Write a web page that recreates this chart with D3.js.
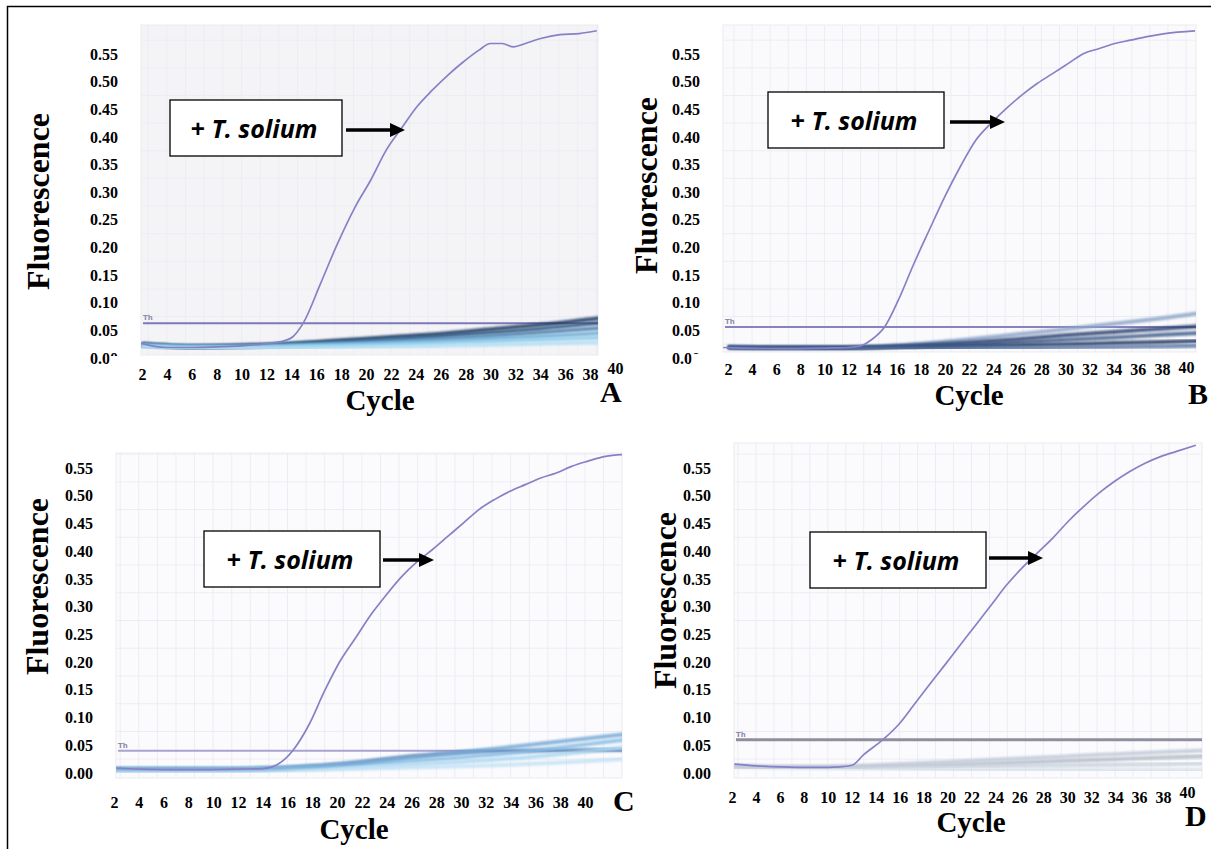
<!DOCTYPE html>
<html>
<head>
<meta charset="utf-8">
<script src="https://cdn.jsdelivr.net/npm/d3@7"></script>
<style>
body { margin: 0; background: #fff; }
svg { display: block; }
.tick text { font-family: "Liberation Serif", "Times New Roman", serif; font-weight: bold; font-size: 16px; fill: #000; }
.big { font-family: "Liberation Serif", "Times New Roman", serif; font-weight: bold; fill: #000; }
.note { font-family: "Open Sans", sans-serif; font-weight: bold; font-size: 25px; fill: #000; }
</style>
</head>
<body>
<div id="chart"></div>
<script>
// tick labels
const xTicks = [2, 4, 6, 8, 10, 12, 14, 16, 18, 20, 22, 24, 26, 28, 30, 32, 34, 36, 38, 40]
const yTicks = [0, 0.05, 0.10, 0.15, 0.20, 0.25, 0.30, 0.35, 0.40, 0.45, 0.50, 0.55]

// positive T. solium curves (cycle, fluorescence)
const posCyclesA = [1.9, 3, 4, 6, 8, 10, 12, 13.4, 14.1, 14.95, 16.35, 17.59, 19.14, 20.38, 21.62, 22.86, 24.1, 25.34, 26.58, 27.83, 29.07, 30.0, 30.93, 31.86, 32.8, 34.03, 35.58, 37.14, 38.54]
const posValuesA = [0.027, 0.021, 0.019, 0.019, 0.02, 0.022, 0.026, 0.031, 0.038, 0.063, 0.135, 0.201, 0.274, 0.322, 0.376, 0.416, 0.455, 0.485, 0.512, 0.536, 0.557, 0.569, 0.569, 0.563, 0.569, 0.578, 0.585, 0.587, 0.592]
const posCyclesB = [1.6, 3, 6, 10, 12, 13.0, 13.9, 15.02, 16.14, 17.43, 18.71, 19.99, 21.27, 22.56, 23.84, 25.12, 26.4, 27.68, 28.96, 30.24, 31.52, 32.81, 34.09, 35.37, 36.65, 38.25, 40.75]
const posValuesB = [0.019, 0.018, 0.017, 0.018, 0.019, 0.022, 0.033, 0.057, 0.105, 0.171, 0.232, 0.292, 0.346, 0.394, 0.425, 0.452, 0.476, 0.497, 0.515, 0.533, 0.551, 0.56, 0.569, 0.575, 0.581, 0.587, 0.592]
const posCyclesC = [2.2, 4, 8, 12, 14, 14.77, 16.48, 17.73, 18.97, 20.22, 21.47, 22.71, 23.96, 25.21, 26.46, 27.7, 28.95, 30.2, 31.44, 32.69, 33.94, 35.18, 36.43, 37.68, 38.92, 40.17, 41.66, 43]
const posValuesC = [0.009, 0.007, 0.006, 0.007, 0.008, 0.011, 0.042, 0.087, 0.147, 0.201, 0.243, 0.285, 0.321, 0.354, 0.381, 0.403, 0.427, 0.451, 0.475, 0.493, 0.508, 0.52, 0.532, 0.541, 0.553, 0.562, 0.571, 0.574]
const posCyclesD = [2.2, 4, 6, 9, 11, 12.03, 13.0, 14.6, 15.9, 17.2, 18.48, 19.78, 21.06, 22.36, 23.65, 24.93, 26.23, 27.51, 28.81, 30.09, 31.39, 32.67, 33.96, 35.26, 36.54, 37.84, 39.13, 40.74]
const posValuesD = [0.016, 0.013, 0.011, 0.01, 0.011, 0.014, 0.033, 0.06, 0.087, 0.123, 0.159, 0.195, 0.231, 0.267, 0.303, 0.339, 0.37, 0.397, 0.424, 0.454, 0.481, 0.505, 0.526, 0.544, 0.559, 0.571, 0.58, 0.591]

// threshold lines
const thresholdA = 0.063
const thresholdB = 0.056
const thresholdC = 0.040
const thresholdD = 0.060

// negative samples, all sampled at the same cycles
const negCycles = [2, 6, 10, 14, 18, 22, 26, 30, 34, 38, 44]
const negA = [
  [0.025, 0.021, 0.022, 0.026, 0.032, 0.038, 0.044, 0.052, 0.06, 0.07, 0.085],
  [0.025, 0.021, 0.022, 0.025, 0.029, 0.034, 0.04, 0.046, 0.053, 0.062, 0.075],
  [0.024, 0.02, 0.021, 0.024, 0.027, 0.031, 0.035, 0.04, 0.046, 0.053, 0.063],
  [0.023, 0.02, 0.02, 0.022, 0.025, 0.028, 0.031, 0.035, 0.039, 0.044, 0.052],
  [0.022, 0.019, 0.019, 0.021, 0.023, 0.025, 0.027, 0.03, 0.033, 0.036, 0.042],
  [0.021, 0.018, 0.018, 0.019, 0.02, 0.021, 0.022, 0.024, 0.026, 0.028, 0.032]
]
const negB = [
  [0.019, 0.018, 0.018, 0.02, 0.026, 0.034, 0.043, 0.052, 0.062, 0.072, 0.09],
  [0.019, 0.018, 0.018, 0.019, 0.023, 0.028, 0.034, 0.041, 0.047, 0.053, 0.062],
  [0.019, 0.018, 0.018, 0.019, 0.021, 0.025, 0.029, 0.033, 0.037, 0.042, 0.048],
  [0.018, 0.018, 0.018, 0.018, 0.019, 0.021, 0.023, 0.025, 0.027, 0.029, 0.032],
  [0.018, 0.017, 0.017, 0.017, 0.017, 0.018, 0.018, 0.019, 0.02, 0.021, 0.023]
]
const negC = [
  [0.007, 0.007, 0.007, 0.008, 0.012, 0.02, 0.03, 0.037, 0.04, 0.041, 0.042],
  [0.006, 0.006, 0.006, 0.007, 0.01, 0.015, 0.021, 0.028, 0.036, 0.046, 0.062],
  [0.005, 0.005, 0.005, 0.006, 0.008, 0.011, 0.015, 0.02, 0.026, 0.034, 0.048],
  [0.004, 0.004, 0.004, 0.005, 0.006, 0.008, 0.01, 0.012, 0.015, 0.019, 0.026],
  [0.007, 0.007, 0.007, 0.008, 0.012, 0.019, 0.028, 0.037, 0.047, 0.057, 0.072]
]
const negD = [
  [0.012, 0.01, 0.01, 0.011, 0.013, 0.016, 0.019, 0.022, 0.025, 0.028, 0.032],
  [0.012, 0.01, 0.01, 0.01, 0.011, 0.012, 0.013, 0.014, 0.015, 0.016, 0.018],
  [0.012, 0.01, 0.009, 0.008, 0.007, 0.006, 0.006, 0.006, 0.005, 0.005, 0.005],
  [0.012, 0.011, 0.011, 0.014, 0.018, 0.022, 0.026, 0.03, 0.034, 0.038, 0.042]
]

const negColorsA = ["#1e3a5f", "#2d5580", "#4a7eaa", "#6aaad6", "#8ccbeb", "#b3dff4"]
const negColorsB = ["#8da4c8", "#2b4170", "#3f5d8c", "#22375f", "#5a78a6"]
const negColorsC = ["#5d86b4", "#86bce4", "#aad7f1", "#c3e2f5", "#76a9d6"]
const negColorsD = ["#b4bac4", "#c8d2de", "#d6dde7", "#c0cad8"]

// layout of the four panels (pixels)
const panels = [
  { id: "A", cyc: posCyclesA, val: posValuesA, thr: thresholdA, neg: negA, negCol: negColorsA,
    xr: [142, 615], yr: [358, 54], plot: [141, 25, 598, 355], yLabX: 118, xLabY: 374, lift40: 6,
    cycle: [380, 410], fluor: [37.5, 201.5], letter: [600, 402], box: [170, 100, 342, 156], arrow: [346, 405, 130],
    cutY: -2.5, bg: "#f4f4f7", thrCol: "#7d78b8" },
  { id: "B", cyc: posCyclesB, val: posValuesB, thr: thresholdB, neg: negB, negCol: negColorsB,
    xr: [728, 1186], yr: [358, 54], plot: [723, 25, 1196, 352], yLabX: 700, xLabY: 369, lift40: 2,
    cycle: [969, 405], fluor: [645.5, 185.5], letter: [1188, 404], box: [768, 92, 944, 148], arrow: [950, 1005, 122],
    cutY: -4.5, bg: "#fafafc", thrCol: "#8783bf" },
  { id: "C", cyc: posCyclesC, val: posValuesC, thr: thresholdC, neg: negC, negCol: negColorsC,
    xr: [114, 585], yr: [773, 468], plot: [116, 453, 622, 778], yLabX: 93, xLabY: 802, lift40: 0,
    cycle: [354, 839], fluor: [36.5, 586.5], letter: [613, 811], box: [204, 531, 380, 587], arrow: [383, 434, 560],
    cutY: null, bg: "#fbfbfd", thrCol: "#a7a3d2" },
  { id: "D", cyc: posCyclesD, val: posValuesD, thr: thresholdD, neg: negD, negCol: negColorsD,
    xr: [732, 1187], yr: [773, 468], plot: [734, 443, 1202, 778], yLabX: 711, xLabY: 797, lift40: 5,
    cycle: [971, 832], fluor: [664.5, 600.5], letter: [1185, 826], box: [810, 532, 986, 588], arrow: [989, 1043, 558],
    cutY: null, bg: "#fbfbfd", thrCol: "#8e8e9e" }
]

const svg = d3.select("#chart").append("svg")
  .attr("width", 1211)
  .attr("height", 849)

const defs = svg.append("defs")
defs.append("filter").attr("id", "soft")
  .append("feGaussianBlur").attr("stdDeviation", 0.9)

//frame: only top and left edges show
svg.append("path")
  .attr("d", "M7.5,849 V6.5 H1211")
  .attr("fill", "none")
  .attr("stroke", "#000")
  .attr("stroke-width", 1.5)

function drawPanel(p) {
  const x = d3.scaleLinear().domain([2, 40]).range(p.xr)
  const y = d3.scaleLinear().domain([0, 0.55]).range(p.yr)
  const [px0, py0, px1, py1] = p.plot

  const g = svg.append("g")

  defs.append("clipPath").attr("id", "plot" + p.id)
    .append("rect").attr("x", px0).attr("y", py0).attr("width", px1 - px0).attr("height", py1 - py0)

  //plot background
  g.append("rect")
    .attr("x", px0).attr("y", py0).attr("width", px1 - px0).attr("height", py1 - py0)
    .attr("fill", p.bg).attr("stroke", "#ebebef")

  const inner = g.append("g").attr("clip-path", "url(#plot" + p.id + ")")

  //faint grid
  inner.selectAll(".vg").data(d3.range(1, 45, 1.5)).join("line")
    .attr("x1", d => x(d)).attr("x2", d => x(d))
    .attr("y1", py0).attr("y2", py1)
    .attr("stroke", "#ececf4").attr("stroke-width", 1)
  inner.selectAll(".hg").data(d3.range(0.025, 0.62, 0.05)).join("line")
    .attr("x1", px0).attr("x2", px1)
    .attr("y1", d => y(d)).attr("y2", d => y(d))
    .attr("stroke", "#ececf4").attr("stroke-width", 1)

  const line = d3.line()
    .x(d => x(d[0]))
    .y(d => y(d[1]))
    .curve(d3.curveMonotoneX)

  //threshold
  inner.append("line")
    .attr("x1", px0 + 2).attr("x2", px1)
    .attr("y1", y(p.thr)).attr("y2", y(p.thr))
    .attr("stroke", p.thrCol)
    .attr("stroke-width", p.id === "D" ? 3 : 2)
  inner.append("text")
    .attr("x", px0 + 2).attr("y", y(p.thr) - 3)
    .attr("font-size", 7).attr("font-family", "DejaVu Sans").attr("font-weight", "bold")
    .attr("fill", "#8c8ca8")
    .text("Th")

  //negative samples
  inner.selectAll(".neg").data(p.neg).join("path")
    .attr("d", vals => line(negCycles.map((c, i) => [c, vals[i]])))
    .attr("fill", "none")
    .attr("stroke", (d, i) => p.negCol[i])
    .attr("stroke-width", 4)
    .attr("stroke-opacity", 0.85)
    .attr("filter", "url(#soft)")

  //positive sample
  inner.append("path")
    .attr("d", line(p.cyc.map((c, i) => [c, p.val[i]])))
    .attr("fill", "none")
    .attr("stroke", "#8681c6")
    .attr("stroke-width", 1.7)

  //y axis labels
  const yAxis = g.append("g")
    .attr("transform", "translate(" + p.yLabX + ",0)")
    .call(d3.axisLeft(y).tickValues(yTicks).tickFormat(d3.format(".2f")).tickSize(0).tickPadding(0))
  yAxis.select(".domain").remove()
  yAxis.selectAll("text").attr("dy", "0.32em")

  //the 0.00 label is cut off at the bottom in A and B
  if (p.cutY !== null) {
    const cp = defs.append("clipPath").attr("id", "cut" + p.id)
    cp.append("rect").attr("x", -60).attr("y", -20).attr("width", 60 - 8.3).attr("height", 40)
    cp.append("rect").attr("x", -8.3).attr("y", -20).attr("width", 12).attr("height", 20 + p.cutY)
    yAxis.selectAll(".tick").filter(d => d === 0).select("text")
      .attr("clip-path", "url(#cut" + p.id + ")")
  }

  //x axis labels
  const xAxis = g.append("g")
    .attr("transform", "translate(0," + p.xLabY + ")")
    .call(d3.axisBottom(x).tickValues(xTicks).tickSize(0).tickPadding(0))
  xAxis.select(".domain").remove()
  xAxis.selectAll("text").attr("y", 0).attr("dy", "0.35em")
  //last label sits a little higher in the original
  xAxis.selectAll(".tick").filter(d => d === 40).select("text").attr("y", -p.lift40)

  //titles
  g.append("text")
    .attr("class", "big")
    .attr("font-size", 29)
    .attr("text-anchor", "middle")
    .attr("x", p.cycle[0]).attr("y", p.cycle[1])
    .text("Cycle")

  g.append("text")
    .attr("class", "big")
    .attr("font-size", 32)
    .attr("text-anchor", "middle")
    .attr("dominant-baseline", "central")
    .attr("transform", "translate(" + p.fluor[0] + "," + p.fluor[1] + ") rotate(-90)")
    .text("Fluorescence")

  g.append("text")
    .attr("class", "big")
    .attr("font-size", 30)
    .attr("x", p.letter[0]).attr("y", p.letter[1])
    .text(p.id)

  //annotation box and arrow
  const [bx0, by0, bx1, by1] = p.box
  g.append("rect")
    .attr("x", bx0).attr("y", by0).attr("width", bx1 - bx0).attr("height", by1 - by0)
    .attr("fill", "#fff").attr("stroke", "#000").attr("stroke-width", 1.3)
  const note = g.append("text")
    .attr("class", "note")
    .attr("text-anchor", "middle")
    .attr("dominant-baseline", "central")
    .attr("x", (bx0 + bx1) / 2 - 2).attr("y", (by0 + by1) / 2)
  note.append("tspan").text("+ ")
  note.append("tspan").attr("font-style", "italic").text("T. solium")

  const [ax0, ax1, ay] = p.arrow
  g.append("line")
    .attr("x1", ax0).attr("x2", ax1 - 12)
    .attr("y1", ay).attr("y2", ay)
    .attr("stroke", "#000").attr("stroke-width", 3.5)
  g.append("path")
    .attr("d", "M" + ax1 + "," + ay + " L" + (ax1 - 15) + "," + (ay - 7) + " L" + (ax1 - 15) + "," + (ay + 7) + " Z")
    .attr("fill", "#000")
}

panels.forEach(drawPanel)
</script>
</body>
</html>
